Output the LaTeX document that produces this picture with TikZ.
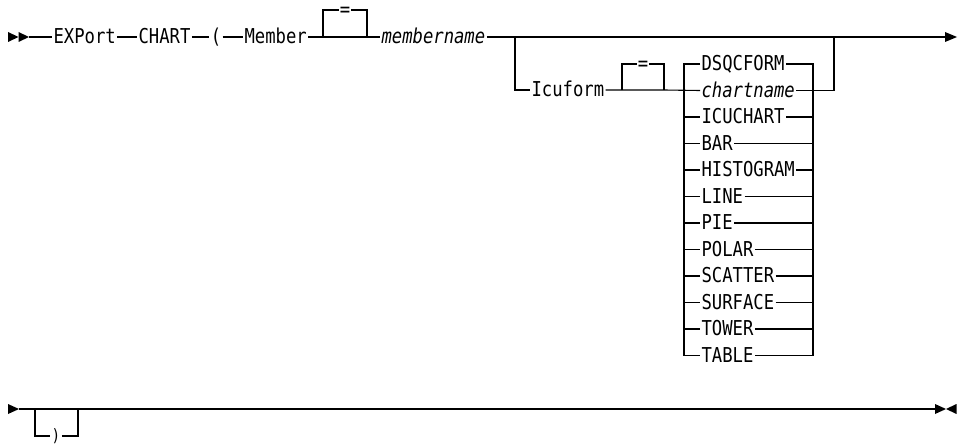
\documentclass[tikz,border=0pt]{standalone}
\usepackage{fontspec}
\newfontfamily\rrfont[FakeStretch=0.84]{DejaVu Sans Mono}
\begin{document}
\begin{tikzpicture}[x=1pt,y=-1pt,line width=1.1pt,
  kw/.style={font=\rrfont\fontsize{20.5}{20.5}\selectfont,inner sep=0pt,inner xsep=1pt,
             text height=13pt,text depth=0pt,anchor=west},
  var/.style={kw,font=\rrfont\itshape\fontsize{20.5}{20.5}\selectfont},
  eq/.style={kw,anchor=center,inner xsep=0.5pt},
  tipfill/.style={fill=black}]
\useasboundingbox (0,0) rectangle (964,444);
% ---- row 1
\coordinate (s1) at (29,37);
\node[kw] (export) at (52,37) {EXPort};
\node[kw] (chart) at (137,37) {CHART};
\node[kw,anchor=center] (lp) at (216,37) {(};
\node[kw] (member) at (243,37) {Member};
\coordinate (b1l) at (323,37);
\coordinate (b1r) at (367,37);
\node[eq] (eq1) at (345,10) {=};
\node[var] (mname) at (380,37) {membername};
\coordinate (br) at (515,37);
\coordinate (jn) at (834,37);
\coordinate (end1) at (946,37);
% ---- Icuform branch
\node[kw] (icu) at (530,90) {Icuform};
\coordinate (b2l) at (622,90);
\coordinate (b2r) at (664,90);
\node[eq] (eq2) at (643,64) {=};
\node[kw]  (r1)  at (700,64)    {DSQCFORM};
\node[var] (r2)  at (700,90.5)  {chartname};
\node[kw]  (r3)  at (700,117)   {ICUCHART};
\node[kw]  (r4)  at (700,143.5) {BAR};
\node[kw]  (r5)  at (700,170)   {HISTOGRAM};
\node[kw]  (r6)  at (700,196.5) {LINE};
\node[kw]  (r7)  at (700,223)   {PIE};
\node[kw]  (r8)  at (700,249.5) {POLAR};
\node[kw]  (r9)  at (700,276)   {SCATTER};
\node[kw]  (r10) at (700,302.5) {SURFACE};
\node[kw]  (r11) at (700,329)   {TOWER};
\node[kw]  (r12) at (700,355.5) {TABLE};
\coordinate (cl) at (684,64);
\coordinate (cr) at (813,64);
\coordinate (rj) at (834,90.5);
% ---- row 2
\coordinate (s2) at (19,409);
\coordinate (l2a) at (35,409);
\coordinate (l2b) at (78,409);
\coordinate (e2) at (935,409);
\node[kw,anchor=center,font=\rrfont\fontsize{17}{17}\selectfont,text height=10pt] (rp) at (56,436) {)};

% ---- connectors row 1
\fill[tipfill] (8,32) -- (18.5,37) -- (8,42) -- cycle;
\fill[tipfill] (18.5,32) -- (29,37) -- (18.5,42) -- cycle;
\draw (s1) -- (export.west);
\draw (export.east) -- (chart.west);
\draw (chart.east) -- (lp.west);
\draw (lp.east) -- (member.west);
\draw (member.east) -- (b1l) -- (b1r) -- (mname.west);
\draw (b1l) |- (eq1.west);
\draw (eq1.east) -| (b1r);
\draw (mname.east) -- (br) -- (jn) -- (end1);
\fill[tipfill] (945,32) -- (957,37) -- (945,42) -- cycle;
% ---- branch
\draw (br) |- (icu.west);
\draw (icu.east) -- (b2l) -- (b2r) -- (r2.west);
\draw (b2l) |- (eq2.west);
\draw (eq2.east) -| (b2r);
\draw (r1.west) -- (cl) |- (r12.west);
\draw (r1.east) -- (cr) |- (r12.east);
\foreach \k in {3,...,11} {
  \draw (cl |- r\k.west) -- (r\k.west);
  \draw (r\k.east) -- (cr |- r\k.east);
}
\draw (r2.east) -- (rj) -- (jn);
% ---- row 2
\fill[tipfill] (8,404) -- (19,409) -- (8,414) -- cycle;
\draw (s2) -- (l2a) -- (l2b) -- (e2);
\draw (l2a) |- (rp.west);
\draw (rp.east) -| (l2b);
\fill[tipfill] (935,404) -- (946,409) -- (935,414) -- cycle;
\fill[tipfill] (956.5,404) -- (946,409) -- (956.5,414) -- cycle;
\end{tikzpicture}
\end{document}
